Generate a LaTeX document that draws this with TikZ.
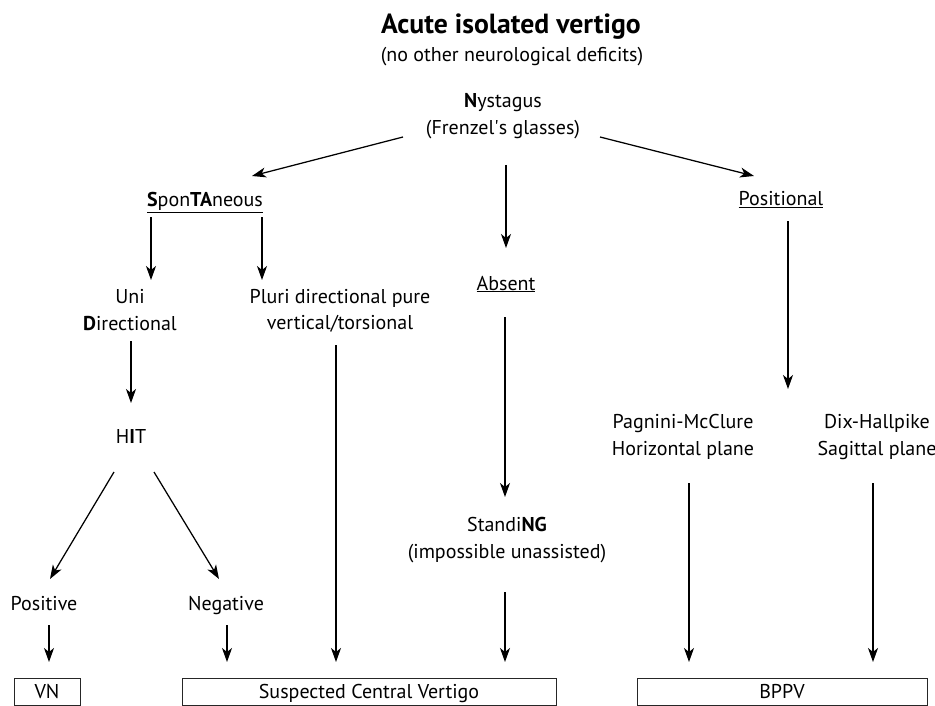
\documentclass[tikz,border=0pt]{standalone}
\usepackage{fontspec}
\setmainfont{PT Sans}
\usetikzlibrary{arrows.meta}
\begin{document}
\begin{tikzpicture}[x=1pt,y=-1pt,
  lbl/.style={inner sep=0pt,align=center,font=\fontsize{20}{26.5}\selectfont},
  one/.style={lbl,text height=14pt,text depth=0pt},
  res/.style={draw=black!85,line width=0.9pt,inner sep=0pt,minimum height=27pt,text height=14pt,text depth=0pt,font=\fontsize{20}{24}\selectfont},
  arr/.style={line width=1.25pt,-{Stealth[length=14pt,width=10pt,inset=4pt]}}]
\useasboundingbox[fill=white] (0,0) rectangle (935,706);
% texts
\node[one,text height=19pt,font=\fontsize{27.7}{30}\selectfont\bfseries] (title) at (511,24) {Acute isolated vertigo};
\node[one] (sub) at (512,55) {(no other neurological deficits)};
\node[lbl] (nys) at (503,116) {\textbf{N}ystagus\\(Frenzel\textquotesingle s glasses)};
\node[one] (spont) at (205,200) {\underline{\textbf{S}pon\textbf{TA}neous}};
\node[one] (pos) at (781,199) {\underline{Positional}};
\node[one] (absent) at (506,283) {\underline{Absent}};
\node[lbl] (unidir) at (130,310) {Uni\\\textbf{D}irectional};
\node[lbl] (pluri) at (340,311) {Pluri directional pure\\vertical/torsional};
\node[one] (hit) at (131,436) {H\textbf{I}T};
\node[one] (positive) at (44,603) {Positive};
\node[one] (negative) at (226,603) {Negative};
\node[lbl] (standing) at (507,540) {Standi\textbf{NG}\\(impossible unassisted)};
\node[lbl] (pagnini) at (683,437) {Pagnini-McClure\\Horizontal plane};
\node[lbl] (dix) at (877,437) {Dix-Hallpike\\Sagittal plane};
% result boxes
\node[res,minimum width=66pt] (vn) at (47,691.5) {VN};
\node[res,minimum width=374pt] (scv) at (369,691.5) {Suspected Central Vertigo};
\node[res,minimum width=290pt] (bppv) at (782,691.5) {BPPV};
% connectors
\draw[arr] ([shift={(-100,21)}]nys.center) -- ([shift={(47,-24)}]spont.center);
\draw[arr] ([shift={(97,21)}]nys.center) -- ([shift={(-27,-23)}]pos.center);
\draw[arr] ([shift={(3,49)}]nys.center) -- ([shift={(0,-35)}]absent.center);
\draw[arr] ([shift={(-54,17)}]spont.center) -- ([shift={(21,-30)}]unidir.center);
\draw[arr] ([shift={(57,17)}]spont.center) -- ([shift={(-78,-31)}]pluri.center);
\draw[arr] ([shift={(1,31)}]unidir.center) -- ([shift={(0,-33)}]hit.center);
\draw[arr] ([shift={(-17,36)}]hit.center) -- ([shift={(6,-24)}]positive.center);
\draw[arr] ([shift={(23,36)}]hit.center) -- ([shift={(-7,-24)}]negative.center);
\draw[arr] ([shift={(5,22)}]positive.center) -- ([shift={(2,-29.5)}]vn.center);
\draw[arr] ([shift={(1,22)}]negative.center) -- ([shift={(-142,-29.5)}]scv.center);
\draw[arr] ([shift={(-4,34)}]pluri.center) -- ([shift={(-33,-29.5)}]scv.center);
\draw[arr] ([shift={(-1,34)}]absent.center) -- ([shift={(-2,-43)}]standing.center);
\draw[arr] ([shift={(-2,52)}]standing.center) -- ([shift={(136,-29.5)}]scv.center);
\draw[arr] ([shift={(7,22)}]pos.center) -- ([shift={(105,-48)}]pagnini.center);
\draw[arr] ([shift={(6,46)}]pagnini.center) -- ([shift={(-93,-29.5)}]bppv.center);
\draw[arr] ([shift={(-4,46)}]dix.center) -- ([shift={(91,-29.5)}]bppv.center);
\end{tikzpicture}
\end{document}
